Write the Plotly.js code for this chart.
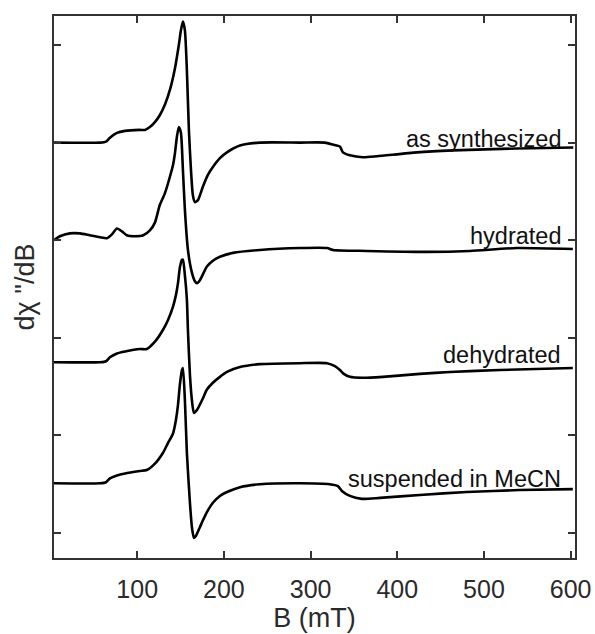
<!DOCTYPE html>
<html>
<head>
<meta charset="utf-8">
<script src="https://cdn.plot.ly/plotly-3.0.1.min.js"></script>
<style>html,body{margin:0;padding:0;background:#fff;}#chart{width:595px;height:634px;}</style>
</head>
<body>
<div id="chart"></div>
<script>
// Field (mT) and stacked signal values (arbitrary units, offset per spectrum)
const asSynthB = [3.9, 57, 64, 68.5, 76.6, 86, 103, 109, 114.6, 120.4, 126, 132, 137.7, 143.5, 148, 150.4, 152.7, 155, 157.3, 159.6, 162, 164.2, 166.5, 170, 175.8, 181.5, 187.3, 195.4, 203.5, 218.5, 241.5, 287.7, 316.5, 325.7, 333.8, 337.3, 345.3, 360.3, 376.5, 422.6, 464, 538, 603];
const asSynthY = [4.00, 4.00, 4.01, 4.05, 4.10, 4.12, 4.13, 4.13, 4.16, 4.21, 4.28, 4.39, 4.54, 4.76, 5.00, 5.15, 5.24, 5.15, 4.74, 4.13, 3.72, 3.46, 3.39, 3.41, 3.55, 3.67, 3.75, 3.84, 3.90, 3.97, 4.00, 4.00, 4.00, 3.98, 3.96, 3.90, 3.87, 3.85, 3.86, 3.90, 3.92, 3.94, 3.95];

const hydratedB = [3.9, 10.8, 22.3, 33.9, 45.4, 57, 65, 70.8, 76.6, 82.4, 88, 97.3, 107, 114.6, 120.4, 126, 131.9, 137.7, 141.3, 143.5, 145.8, 148, 150.4, 152.7, 155, 158.5, 163, 166.5, 169, 172.3, 180.4, 187.3, 195.4, 210.4, 241.5, 287.7, 319, 325.7, 365, 434, 483.7, 537.9, 602.5];
const hydratedY = [3.00, 3.04, 3.07, 3.07, 3.05, 3.03, 3.02, 3.06, 3.12, 3.09, 3.05, 3.04, 3.05, 3.10, 3.18, 3.36, 3.48, 3.65, 3.77, 3.89, 4.06, 4.16, 4.10, 3.72, 3.31, 2.90, 2.67, 2.58, 2.56, 2.59, 2.73, 2.79, 2.83, 2.87, 2.90, 2.92, 2.92, 2.90, 2.89, 2.88, 2.89, 2.92, 2.91];

const dehydratedB = [3.9, 57, 64, 68.5, 76.6, 86, 103, 111, 120.4, 129.6, 135.4, 141.3, 144.7, 147, 149.2, 151.6, 152.7, 155, 157.3, 158.5, 160.8, 163.1, 165.4, 168.9, 175.8, 180.4, 187.3, 195.4, 203.5, 218.5, 241.5, 287.7, 319, 328, 333.8, 338.4, 345.3, 360.3, 383.4, 426, 460.7, 518.5, 602.5];
const dehydratedY = [1.75, 1.75, 1.76, 1.80, 1.84, 1.86, 1.885, 1.885, 1.96, 2.08, 2.18, 2.32, 2.44, 2.56, 2.72, 2.80, 2.80, 2.64, 2.39, 2.08, 1.62, 1.36, 1.23, 1.26, 1.38, 1.47, 1.54, 1.60, 1.65, 1.70, 1.73, 1.74, 1.74, 1.71, 1.67, 1.63, 1.60, 1.59, 1.60, 1.63, 1.65, 1.67, 1.69];

const mecnB = [3.9, 57, 64, 68.5, 76.6, 86, 103, 111, 120.4, 129.6, 135.4, 141.3, 144.7, 147, 149.2, 151.6, 152.7, 155, 157.3, 160.8, 163.1, 165.4, 167.7, 172.3, 175.8, 180.4, 187.3, 195.4, 203.5, 218.5, 241.5, 287.7, 322, 331.5, 336.1, 345.3, 359, 380, 426, 480, 541, 602.5];
const mecnY = [0.51, 0.51, 0.52, 0.56, 0.59, 0.61, 0.635, 0.645, 0.71, 0.82, 0.92, 1.02, 1.16, 1.31, 1.52, 1.67, 1.69, 1.36, 0.82, 0.31, 0.06, -0.05, -0.03, 0.06, 0.13, 0.215, 0.31, 0.38, 0.42, 0.47, 0.50, 0.51, 0.50, 0.48, 0.43, 0.38, 0.35, 0.36, 0.39, 0.42, 0.44, 0.45];

const seriesNames = ["as synthesized", "hydrated", "dehydrated", "suspended in MeCN"];
const labelY = [4.04, 3.04, 1.82, 0.55];
const xTicks = [100, 200, 300, 400, 500, 600];
const yTicks = [0, 1, 2, 3, 4, 5];

const allB = [asSynthB, hydratedB, dehydratedB, mecnB];
const allY = [asSynthY, hydratedY, dehydratedY, mecnY];

const FONT = "Liberation Sans, Arial, Helvetica, sans-serif";

const traces = allB.map((b, i) => ({
  x: b, y: allY[i], type: "scatter", mode: "lines", name: seriesNames[i],
  line: {color: "#000", width: 2.6, shape: "spline", smoothing: 0.6},
  hoverinfo: "skip"
}));

const annotations = seriesNames.map((n, i) => ({
  text: n, x: 591, y: labelY[i], xref: "x", yref: "y",
  xanchor: "right", yanchor: "middle", showarrow: false,
  font: {family: FONT, size: 23.5, color: "#111"}
}));

const axisCommon = {
  showline: true, mirror: "ticks", linecolor: "#333", linewidth: 2,
  ticks: "inside", ticklen: 7, tickwidth: 2, tickcolor: "#333",
  showgrid: false, zeroline: false
};

const layout = {
  width: 595, height: 634,
  margin: {l: 54, r: 20, t: 16, b: 76},
  paper_bgcolor: "#fff", plot_bgcolor: "#fff",
  showlegend: false,
  font: {family: FONT, color: "#222"},
  xaxis: Object.assign({}, axisCommon, {
    range: [4, 605], tickvals: xTicks, ticktext: xTicks.map(String),
    ticklabelstandoff: 8,
    tickfont: {family: FONT, size: 25, color: "#2a2a2a"},
    title: {text: "B (mT)", font: {family: FONT, size: 27, color: "#2a2a2a"}, standoff: 6}
  }),
  yaxis: Object.assign({}, axisCommon, {
    range: [-0.256, 5.297], tickvals: yTicks, showticklabels: false,
    title: {text: "dχ \"/dB", font: {family: FONT, size: 27, color: "#2a2a2a"}, standoff: 10}
  }),
  annotations: annotations
};

Plotly.newPlot("chart", traces, layout, {staticPlot: true, displayModeBar: false});
</script>
</body>
</html>
